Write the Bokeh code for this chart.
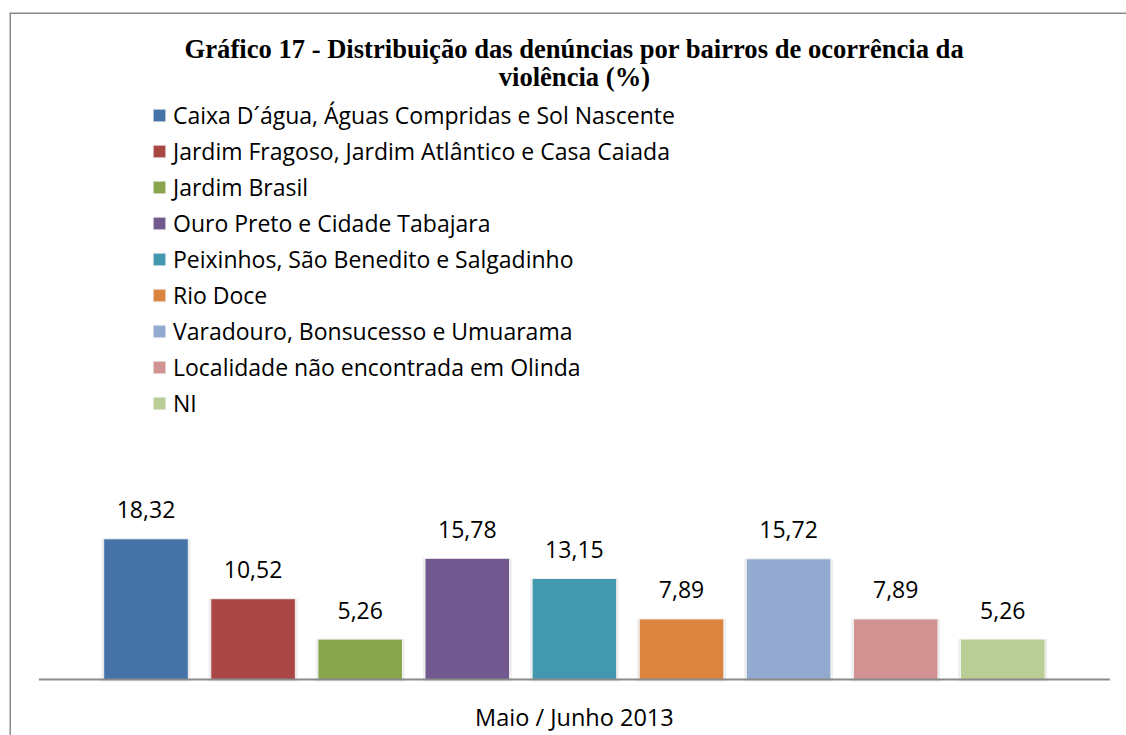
from bokeh.plotting import figure
from bokeh.models import ColumnDataSource, Range1d, Label, Legend, LegendItem
from bokeh.embed import file_html
from bokeh.resources import INLINE
from bokeh.core.properties import value

# ---- data ----
categories = [
    "Caixa D´água, Águas Compridas e Sol Nascente",
    "Jardim Fragoso, Jardim Atlântico e Casa Caiada",
    "Jardim Brasil",
    "Ouro Preto e Cidade Tabajara",
    "Peixinhos, São Benedito e Salgadinho",
    "Rio Doce",
    "Varadouro, Bonsucesso e Umuarama",
    "Localidade não encontrada em Olinda",
    "NI",
]
values = [18.32, 10.52, 5.26, 15.78, 13.15, 7.89, 15.72, 7.89, 5.26]
colors = ["#4572A7", "#AA4643", "#89A54E", "#71588F", "#4198AF",
          "#DB843D", "#93A9CF", "#D19392", "#B9CD96"]
period_label = "Maio / Junho 2013"
title_lines = ["Gráfico 17 - Distribuição das denúncias por bairros de ocorrência da",
               "violência (%)"]

n = len(categories)
xs = list(range(n))
labels = [f"{v:.2f}".replace(".", ",") for v in values]

src = ColumnDataSource(dict(x=xs, value=values, color=colors, label=labels, cat=categories))

xr = Range1d(-1.2745, 9.155)
yr = Range1d(-7.29, 86.85)
p = figure(width=1126, height=735, output_backend="svg", toolbar_location=None,
           x_range=xr, y_range=yr,
           x_axis_type=None, y_axis_type=None,
           min_border_left=9, min_border_top=12, min_border_right=0, min_border_bottom=0)
p.grid.visible = False
p.outline_line_color = None
p.background_fill_color = "white"
p.border_fill_color = "white"

# chart border (left and top edges of the frame)
p.segment(x0=[xr.start, xr.start], y0=[yr.start, yr.end], x1=[xr.start, xr.end], y1=[yr.end, yr.end],
          line_color="#8c8c8c", line_width=3)

# soft shadows
p.vbar(x="x", top="value", bottom=-0.25, width=0.83, source=src, fill_color="#000000",
       fill_alpha=0.07, line_color=None)
bars = p.vbar(x="x", top="value", bottom=0, width=0.79, source=src, fill_color="color",
              line_color="#f2f2f2", line_width=1)

# baseline
p.segment(x0=[-1], y0=[0], x1=[n], y1=[0], line_color="#8a8a8a", line_width=2)

# value labels
p.text(x="x", y="value", text="label", source=src, text_align="center", text_baseline="middle",
       y_offset=-29, text_font=value("Open Sans"), text_font_size="23px", text_color="#000000")

mid = (n - 1) / 2
p.add_layout(Label(x=mid, y=82.1, text=title_lines[0], text_align="center", text_baseline="middle",
                   text_font="Liberation Serif", text_font_style="bold", text_font_size="26.6px",
                   text_color="#000000"))
p.add_layout(Label(x=mid, y=78.4, text=title_lines[1], text_align="center", text_baseline="middle",
                   text_font="Liberation Serif", text_font_style="bold", text_font_size="26.6px",
                   text_color="#000000"))
p.add_layout(Label(x=mid, y=-4.82, text=period_label, text_align="center", text_baseline="middle",
                   text_font="Open Sans", text_font_size="23.5px", text_color="#000000"))

items = [LegendItem(label=c, renderers=[bars], index=i) for i, c in enumerate(categories)]
legend = Legend(items=items, location=(142, 314), orientation="vertical",
                label_text_font="Open Sans", label_text_font_size="23px", label_text_color="#000000",
                glyph_width=16, glyph_height=16, label_height=36, spacing=0, label_standoff=6,
                padding=0, margin=0, border_line_color=None, background_fill_alpha=0)
p.add_layout(legend, "center")

open("out.html", "w").write(file_html(p, INLINE))
